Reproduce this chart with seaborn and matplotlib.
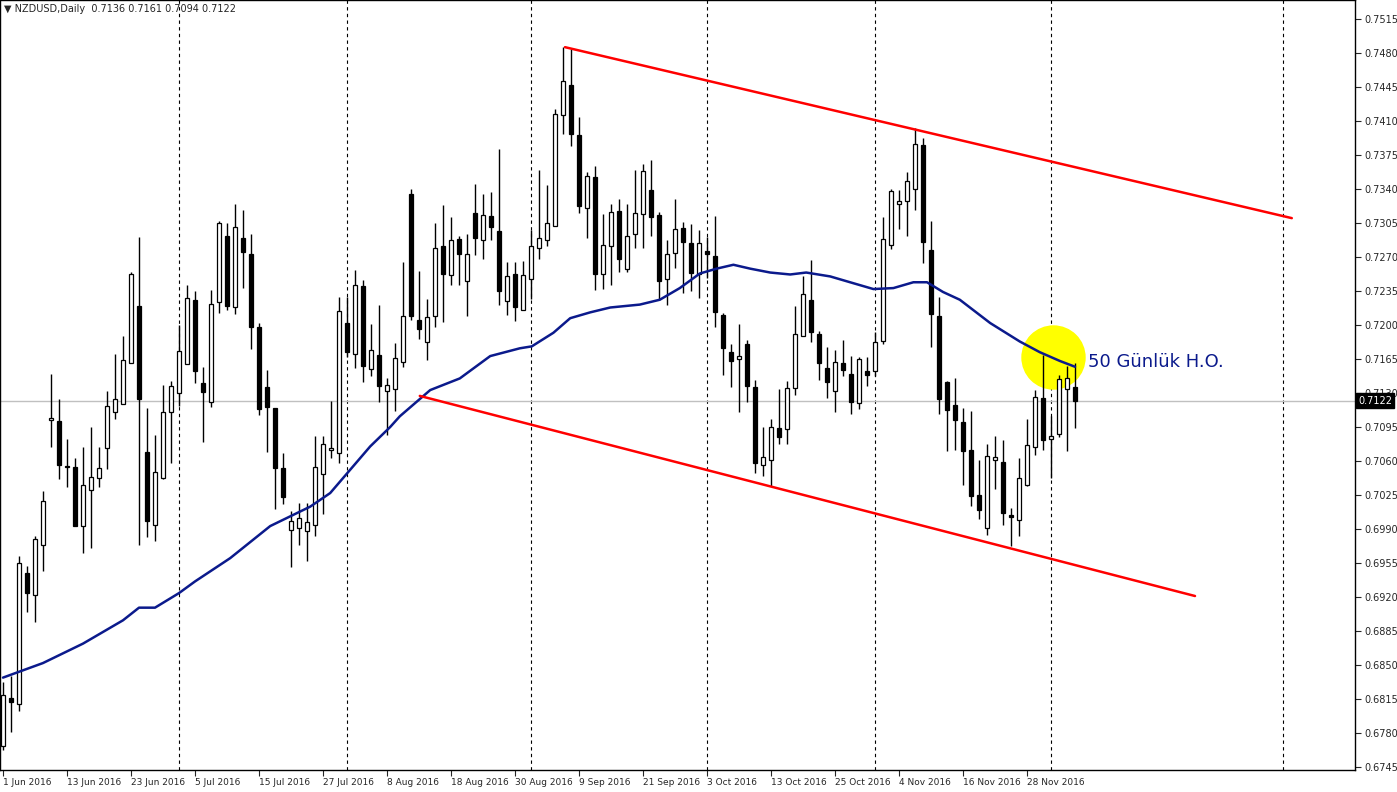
import matplotlib
matplotlib.use("Agg")
import matplotlib.pyplot as plt
import seaborn as sns
import numpy as np
import pandas as pd

# daily OHLC, NZDUSD, from 1 Jun 2016
opens = [0.6767, 0.6816, 0.6810, 0.6945, 0.6922, 0.6974, 0.7102, 0.7101, 0.7055, 0.7054,
         0.6993, 0.7030, 0.7043, 0.7073, 0.7110, 0.7119, 0.7161, 0.7220, 0.7069, 0.6994,
         0.7042, 0.7110, 0.7130, 0.7160, 0.7226, 0.7140, 0.7121, 0.7224, 0.7292, 0.7219,
         0.7290, 0.7273, 0.7198, 0.7136, 0.7115, 0.7053, 0.6989, 0.6991, 0.6988, 0.6994,
         0.7047, 0.7071, 0.7068, 0.7202, 0.7170, 0.7240, 0.7155, 0.7169, 0.7132, 0.7134,
         0.7162, 0.7335, 0.7205, 0.7183, 0.7209, 0.7281, 0.7251, 0.7289, 0.7245, 0.7315,
         0.7288, 0.7312, 0.7297, 0.7225, 0.7252, 0.7215, 0.7247, 0.7279, 0.7287, 0.7302,
         0.7416, 0.7447, 0.7396, 0.7320, 0.7352, 0.7252, 0.7281, 0.7317, 0.7258, 0.7294,
         0.7314, 0.7339, 0.7313, 0.7247, 0.7274, 0.7300, 0.7284, 0.7252, 0.7276, 0.7271,
         0.7210, 0.7172, 0.7165, 0.7180, 0.7136, 0.7056, 0.7061, 0.7094, 0.7093, 0.7135,
         0.7189, 0.7226, 0.7191, 0.7156, 0.7132, 0.7161, 0.7150, 0.7120, 0.7153, 0.7153,
         0.7184, 0.7282, 0.7325, 0.7328, 0.7340, 0.7385, 0.7277, 0.7209, 0.7141, 0.7118,
         0.7100, 0.7071, 0.7025, 0.6991, 0.7061, 0.7059, 0.7004, 0.6999, 0.7035, 0.7074,
         0.7125, 0.7083, 0.7088, 0.7134, 0.7136]
highs = [0.6832, 0.6839, 0.6962, 0.6952, 0.6983, 0.7029, 0.7150, 0.7124, 0.7083, 0.7063,
         0.7074, 0.7095, 0.7074, 0.7132, 0.7170, 0.7189, 0.7255, 0.7291, 0.7115, 0.7087,
         0.7138, 0.7142, 0.7200, 0.7241, 0.7235, 0.7157, 0.7236, 0.7307, 0.7305, 0.7325,
         0.7318, 0.7294, 0.7202, 0.7154, 0.7115, 0.7068, 0.7009, 0.7017, 0.7017, 0.7086,
         0.7086, 0.7122, 0.7229, 0.7229, 0.7257, 0.7246, 0.7201, 0.7221, 0.7145, 0.7181,
         0.7265, 0.7340, 0.7256, 0.7227, 0.7305, 0.7324, 0.7311, 0.7292, 0.7294, 0.7345,
         0.7335, 0.7337, 0.7381, 0.7265, 0.7265, 0.7266, 0.7298, 0.7360, 0.7344, 0.7422,
         0.7486, 0.7484, 0.7414, 0.7358, 0.7364, 0.7314, 0.7325, 0.7330, 0.7325, 0.7360,
         0.7366, 0.7370, 0.7316, 0.7288, 0.7330, 0.7306, 0.7304, 0.7298, 0.7291, 0.7312,
         0.7212, 0.7180, 0.7201, 0.7185, 0.7143, 0.7095, 0.7103, 0.7134, 0.7142, 0.7220,
         0.7250, 0.7267, 0.7194, 0.7177, 0.7174, 0.7185, 0.7168, 0.7167, 0.7167, 0.7193,
         0.7311, 0.7340, 0.7339, 0.7358, 0.7403, 0.7393, 0.7307, 0.7229, 0.7142, 0.7145,
         0.7115, 0.7111, 0.7061, 0.7078, 0.7086, 0.7082, 0.7012, 0.7063, 0.7103, 0.7133,
         0.7169, 0.7106, 0.7149, 0.7158, 0.7161]
lows = [0.6762, 0.6781, 0.6803, 0.6905, 0.6894, 0.6947, 0.7074, 0.7041, 0.7033, 0.6993,
        0.6965, 0.6970, 0.7033, 0.7052, 0.7103, 0.7119, 0.7161, 0.6973, 0.6982, 0.6978,
        0.7041, 0.7058, 0.7117, 0.7160, 0.7140, 0.7080, 0.7116, 0.7212, 0.7215, 0.7211,
        0.7238, 0.7175, 0.7107, 0.7069, 0.7011, 0.7016, 0.6951, 0.6974, 0.6957, 0.6983,
        0.7005, 0.7063, 0.7058, 0.7167, 0.7156, 0.7141, 0.7147, 0.7121, 0.7087, 0.7111,
        0.7157, 0.7205, 0.7186, 0.7164, 0.7198, 0.7203, 0.7241, 0.7241, 0.7209, 0.7272,
        0.7268, 0.7287, 0.7221, 0.7210, 0.7204, 0.7215, 0.7227, 0.7268, 0.7281, 0.7302,
        0.7397, 0.7384, 0.7315, 0.7290, 0.7236, 0.7237, 0.7241, 0.7255, 0.7255, 0.7279,
        0.7279, 0.7292, 0.7226, 0.7221, 0.7259, 0.7233, 0.7235, 0.7228, 0.7248, 0.7198,
        0.7149, 0.7136, 0.7110, 0.7121, 0.7048, 0.7045, 0.7034, 0.7078, 0.7078, 0.7128,
        0.7189, 0.7183, 0.7143, 0.7125, 0.7110, 0.7147, 0.7108, 0.7114, 0.7137, 0.7147,
        0.7180, 0.7278, 0.7299, 0.7292, 0.7318, 0.7264, 0.7177, 0.7108, 0.7070, 0.7071,
        0.7035, 0.7014, 0.7000, 0.6984, 0.7031, 0.6994, 0.6972, 0.6983, 0.7034, 0.7066,
        0.7071, 0.7042, 0.7085, 0.7070, 0.7094]
closes = [0.6819, 0.6812, 0.6955, 0.6924, 0.6980, 0.7019, 0.7104, 0.7056, 0.7054, 0.6993,
          0.7035, 0.7044, 0.7053, 0.7117, 0.7124, 0.7164, 0.7252, 0.7124, 0.6998, 0.7049,
          0.7110, 0.7137, 0.7173, 0.7228, 0.7153, 0.7131, 0.7222, 0.7305, 0.7220, 0.7301,
          0.7275, 0.7198, 0.7114, 0.7116, 0.7053, 0.7023, 0.6998, 0.7001, 0.6997, 0.7054,
          0.7077, 0.7073, 0.7214, 0.7172, 0.7241, 0.7158, 0.7174, 0.7137, 0.7138, 0.7166,
          0.7209, 0.7209, 0.7196, 0.7208, 0.7279, 0.7252, 0.7287, 0.7273, 0.7273, 0.7290,
          0.7313, 0.7301, 0.7235, 0.7250, 0.7219, 0.7251, 0.7281, 0.7290, 0.7305, 0.7417,
          0.7451, 0.7397, 0.7323, 0.7353, 0.7253, 0.7282, 0.7316, 0.7268, 0.7292, 0.7315,
          0.7359, 0.7311, 0.7245, 0.7273, 0.7299, 0.7285, 0.7254, 0.7284, 0.7273, 0.7213,
          0.7176, 0.7163, 0.7168, 0.7137, 0.7058, 0.7064, 0.7095, 0.7085, 0.7135, 0.7191,
          0.7232, 0.7193, 0.7161, 0.7141, 0.7162, 0.7154, 0.7121, 0.7165, 0.7149, 0.7182,
          0.7289, 0.7338, 0.7328, 0.7348, 0.7386, 0.7285, 0.7211, 0.7124, 0.7112, 0.7102,
          0.7070, 0.7024, 0.7010, 0.7065, 0.7064, 0.7006, 0.7002, 0.7042, 0.7076, 0.7126,
          0.7082, 0.7086, 0.7144, 0.7145, 0.7122]

# 50-day moving average at bar positions
ma_bar = [0, 5, 10, 15, 17, 19, 22, 24, 28.4, 33.4, 35.9, 38.4, 40.9, 43.4, 45.9, 48.4,
          49.6, 53.4, 57.1, 60.9, 64.6, 66.1, 68.8, 70.9, 73.4, 75.9, 79.6, 82.1, 84.6,
          87.1, 89.2, 91.3, 93.4, 95.9, 98.4, 100.4, 103.4, 106.3, 108.8, 111.3, 113.8,
          115.5, 117.5, 119.6, 123.4, 127.1, 129.6, 132.1, 134]
ma_val = [0.6837, 0.6852, 0.6872, 0.6896, 0.6909, 0.6909, 0.6924, 0.6936, 0.6960, 0.6993,
          0.7003, 0.7013, 0.7027, 0.7051, 0.7075, 0.7095, 0.7106, 0.7133, 0.7145, 0.7168,
          0.7176, 0.7178, 0.7192, 0.7207, 0.7213, 0.7218, 0.7221, 0.7226, 0.7238, 0.7253,
          0.7258, 0.7262, 0.7258, 0.7254, 0.7252, 0.7254, 0.7250, 0.7243, 0.7237, 0.7238,
          0.7244, 0.7244, 0.7234, 0.7226, 0.7202, 0.7183, 0.7172, 0.7163, 0.7157]

# channel lines (bar, price)
upper_line = ([70.25, 161.1], [0.7486, 0.7310])
lower_line = ([52.1, 149.0], [0.7127, 0.6921])
month_starts = [22, 43, 66, 88, 109, 131, 160]
last_price = 0.7122

sns.set_style("white")
plt.rcParams['font.family'] = ['DejaVu Sans']

fig = plt.figure(figsize=(13.97, 7.92), dpi=100)
ax = fig.add_axes([0, 22 / 792, 1355 / 1397, 770 / 792])

n = len(opens)
idx = np.arange(n)
o = np.array(opens); c = np.array(closes)
h = np.array(highs); l = np.array(lows)

ax.scatter([131.25], [0.7167], s=2150, color="#ffff00", zorder=1, linewidths=0)

for ms in month_starts:
    ax.axvline(ms, color="black", ls=(0, (3, 3)), lw=0.8, zorder=0)
ax.axhline(last_price, color="#c0c0c0", lw=1, zorder=0)

ax.vlines(idx, l, h, color="black", lw=1, zorder=3)
up = c >= o
body_lo = np.minimum(o, c)
body_h = np.maximum(np.abs(c - o), 0.00005)
ax.bar(idx[up], body_h[up], bottom=body_lo[up], width=0.62, color="white",
       edgecolor="black", linewidth=0.9, zorder=4)
ax.bar(idx[~up], body_h[~up], bottom=body_lo[~up], width=0.62, color="black",
       edgecolor="black", linewidth=0.9, zorder=4)

sns.lineplot(x=ma_bar, y=ma_val, ax=ax, color="#0b1a8c", lw=1.8, zorder=5)
ax.plot(*upper_line, color="#ff0000", lw=1.8, zorder=6)
ax.plot(*lower_line, color="#ff0000", lw=1.8, zorder=6)

ax.text(135.6, 0.7162, "50 Günlük H.O.", color="#0b1a8c", fontsize=13,
        va="center", ha="left", zorder=7)

ax.set_xlim(-0.375, 169)
ax.set_ylim(0.7480 - 717 / 9714, 0.7480 + 53 / 9714)

# right-side price axis
yt = np.round(np.arange(0.6745, 0.7520, 0.0035), 4)
ax.yaxis.tick_right()
ax.set_yticks(yt)
ax.set_yticklabels([f"{v:.4f}" for v in yt], fontsize=7)
ax.tick_params(axis="y", length=4, pad=3, direction="out", right=True)

dates = pd.bdate_range("2016-06-01", periods=n)
xt = list(range(0, n, 8))
ax.set_xticks(xt)
ax.set_xticklabels([f"{dates[i].day} {dates[i]:%b %Y}" for i in xt], fontsize=6.5, ha="left")
ax.tick_params(axis="x", length=4, pad=2, direction="out", bottom=True)
for s in ax.spines.values():
    s.set_color("black"); s.set_linewidth(1)

ax.text(1.0 + 3 / 1355, last_price, f"{last_price:.4f}", transform=ax.get_yaxis_transform(),
        fontsize=7, color="white", va="center", ha="left", zorder=10,
        bbox=dict(boxstyle="square,pad=0.25", fc="black", ec="black"))

ax.text(0.003, 0.995, "\u25BC NZDUSD,Daily  0.7136 0.7161 0.7094 0.7122", transform=ax.transAxes,
        fontsize=7, va="top", ha="left")

fig.savefig("out.png", dpi=100)
